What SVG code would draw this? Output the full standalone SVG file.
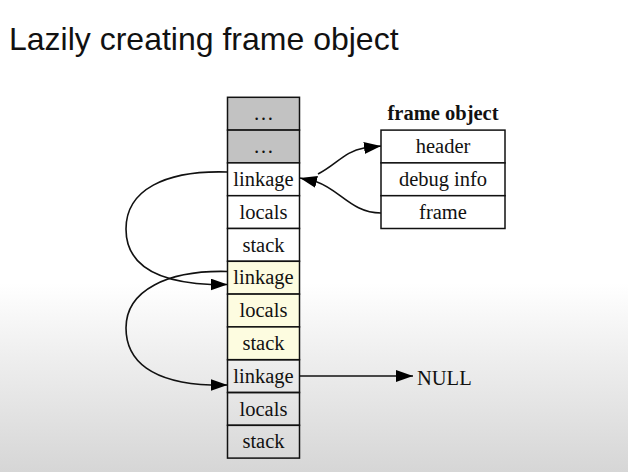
<svg xmlns="http://www.w3.org/2000/svg" width="628" height="472" viewBox="0 0 628 472">
<defs>
<linearGradient id="bg" x1="0" y1="0" x2="0" y2="1">
<stop offset="0" stop-color="#ffffff"/>
<stop offset="0.6" stop-color="#ffffff"/>
<stop offset="0.75" stop-color="#efefef"/>
<stop offset="1" stop-color="#d6d6d6"/>
</linearGradient>
<marker id="ah" markerUnits="userSpaceOnUse" markerWidth="17" markerHeight="12" refX="17" refY="6" orient="auto">
<path d="M0,0 L17,6 L0,12 Z" fill="#000"/>
</marker>
<style>
.cell{stroke:#111;stroke-width:1.5}
.grey{fill:#c2c2c2}
.white{fill:#ffffff}
.yellow{fill:#fdfce0}
.clear{fill:none}
.t{font-family:"Liberation Serif","Times New Roman",serif;font-size:20.5px;fill:#111;text-anchor:middle}
.edge{fill:none;stroke:#111;stroke-width:1.6;marker-end:url(#ah)}
</style>
</defs>
<rect x="0" y="0" width="628" height="472" fill="url(#bg)"/>
<text x="9" y="50" font-family="Liberation Sans, Arial, sans-serif" font-size="32" fill="#111">Lazily creating frame object</text>

<g id="stack">
<g id="cell0"><rect class="cell grey" x="227.5" y="97.3" width="72" height="32.8"/><text class="t" x="263.5" y="120.3">…</text></g>
<g id="cell1"><rect class="cell grey" x="227.5" y="130.1" width="72" height="32.8"/><text class="t" x="263.5" y="153.1">…</text></g>
<g id="linkage1"><rect class="cell white" x="227.5" y="162.9" width="72" height="32.8"/><text class="t" x="263.5" y="186">linkage</text></g>
<g id="locals1"><rect class="cell white" x="227.5" y="195.7" width="72" height="32.8"/><text class="t" x="263.5" y="218.8">locals</text></g>
<g id="stack1"><rect class="cell white" x="227.5" y="228.5" width="72" height="32.8"/><text class="t" x="263.5" y="251.6">stack</text></g>
<g id="linkage2"><rect class="cell yellow" x="227.5" y="261.3" width="72" height="32.8"/><text class="t" x="263.5" y="284.4">linkage</text></g>
<g id="locals2"><rect class="cell yellow" x="227.5" y="294.1" width="72" height="32.8"/><text class="t" x="263.5" y="317.2">locals</text></g>
<g id="stack2"><rect class="cell yellow" x="227.5" y="326.9" width="72" height="32.8"/><text class="t" x="263.5" y="350">stack</text></g>
<g id="linkage3"><rect class="cell clear" x="227.5" y="359.7" width="72" height="32.8"/><text class="t" x="263.5" y="382.8">linkage</text></g>
<g id="locals3"><rect class="cell clear" x="227.5" y="392.5" width="72" height="32.8"/><text class="t" x="263.5" y="415.6">locals</text></g>
<g id="stack3"><rect class="cell clear" x="227.5" y="425.3" width="72" height="32.8"/><text class="t" x="263.5" y="448.4">stack</text></g>
</g>

<g id="frameobject">
<text class="t" x="443" y="120" font-weight="bold" font-size="21">frame object</text>
<g id="header"><rect class="cell white" x="381" y="130.1" width="124" height="32.8"/><text class="t" x="443" y="153.2">header</text></g>
<g id="debuginfo"><rect class="cell white" x="381" y="162.9" width="124" height="32.8"/><text class="t" x="443" y="186">debug info</text></g>
<g id="frame"><rect class="cell white" x="381" y="195.7" width="124" height="32.8"/><text class="t" x="443" y="218.8">frame</text></g>
</g>

<g id="null"><text class="t" x="417" y="385" style="text-anchor:start">NULL</text></g>

<g id="connectors">
<path class="edge" d="M227.5,172 C165,170 126,190 126,229 C126,262 152,282 211,284.5 L227.5,284.5"/>
<path class="edge" d="M227.5,271.5 C168,270 126,290 126,328 C126,361 152,383 211,385 L227.5,385"/>
<path class="edge" d="M299.5,376 L413,376"/>
<path class="edge" d="M381,213 C352,213 340,190 317,182 L300,178"/>
<path class="edge" d="M318,174 C336,165 345,151 364,148 L381,146"/>
</g>
</svg>
